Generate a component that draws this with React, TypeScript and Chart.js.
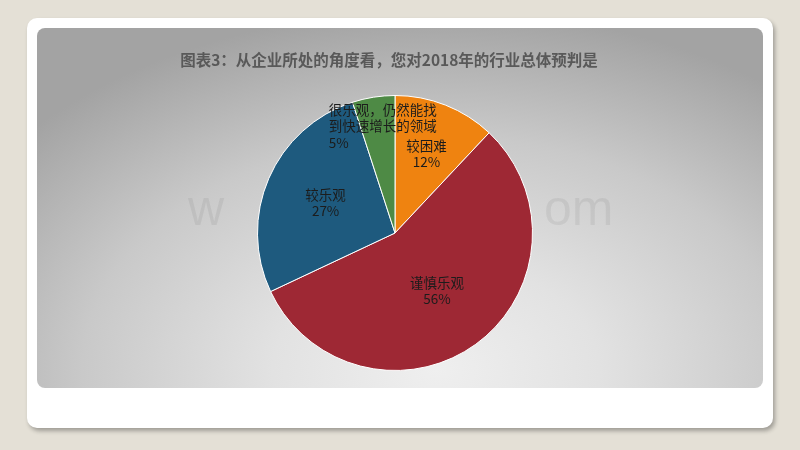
import React, { useEffect, useRef } from "react";
import { Chart, registerables } from "chart.js";

Chart.register(...registerables);

const categories = ["较困难", "谨慎乐观", "较乐观", "很乐观，仍然能找到快速增长的领域"];
const labelLines = [["较困难"], ["谨慎乐观"], ["较乐观"], ["很乐观，仍然能找", "到快速增长的领域"]];
const shares = [12, 56, 27, 5];
const colors = ["#ef8310", "#9e2834", "#1e5a7e", "#4e8a45"];
const titleText = "图表3：从企业所处的角度看，您对2018年的行业总体预判是";

const labelRadiusFraction = [0.62, 0.52, 0.55, 0.8];

const CJK = "'Noto Sans CJK SC', 'Noto Sans', sans-serif";

const titlePlugin = {
  id: "customTitle",
  beforeDraw(chart: any) {
    const ctx = chart.ctx;
    ctx.save();
    ctx.fillStyle = "#595959";
    ctx.font = "bold 15.5px " + CJK;
    ctx.textAlign = "center";
    ctx.textBaseline = "middle";
    ctx.fillText(titleText, 352, 32);
    ctx.restore();
  },
};

const watermarkPlugin = {
  id: "watermark",
  beforeDatasetsDraw(chart: any) {
    const ctx = chart.ctx;
    ctx.save();
    ctx.fillStyle = "rgba(0,0,0,0.06)";
    ctx.font = "50px 'Liberation Sans', Arial, sans-serif";
    ctx.textBaseline = "alphabetic";
    ctx.textAlign = "left";
    ctx.fillText("w", 151, 197);
    ctx.fillText("om", 507, 197);
    ctx.restore();
  },
};

const labelPlugin = {
  id: "sliceLabels",
  afterDatasetsDraw(chart: any) {
    const ctx = chart.ctx;
    const meta = chart.getDatasetMeta(0);
    const data = chart.data.datasets[0].data as number[];
    ctx.save();
    ctx.fillStyle = "#1c1c1c";
    ctx.font = "13.5px " + CJK;
    ctx.textAlign = "center";
    ctx.textBaseline = "middle";
    meta.data.forEach((arc: any, i: number) => {
      const { x, y, startAngle, endAngle, outerRadius } = arc.getProps(
        ["x", "y", "startAngle", "endAngle", "outerRadius"],
        true
      );
      const mid = (startAngle + endAngle) / 2;
      const r = outerRadius * labelRadiusFraction[i];
      const cx = x + Math.cos(mid) * r;
      const cy = y + Math.sin(mid) * r;
      const lines = [...labelLines[i], data[i] + "%"];
      const lh = 16.5;
      const top = cy - ((lines.length - 1) * lh) / 2;
      if (i === 3) {
        ctx.textAlign = "left";
        const left = cx - 49;
        lines.forEach((t, k) => ctx.fillText(t, left, top + 2 + k * lh));
        ctx.textAlign = "center";
      } else {
        lines.forEach((t, k) => ctx.fillText(t, cx, top + k * lh));
      }
    });
    ctx.restore();
  },
};

export default function App() {
  const ref = useRef<HTMLCanvasElement>(null);
  useEffect(() => {
    if (!ref.current) return;
    const chart = new Chart(ref.current, {
      type: "pie",
      data: {
        labels: categories,
        datasets: [
          {
            data: shares,
            backgroundColor: colors,
            borderColor: "#ffffff",
            borderWidth: 1,
          },
        ],
      },
      options: {
        animation: false,
        responsive: false,
        maintainAspectRatio: false,
        rotation: 0,
        layout: { padding: { top: 67, bottom: 17, left: 0, right: 10 } },
        plugins: {
          legend: { display: false },
          tooltip: { enabled: false },
          title: { display: false },
        },
      },
      plugins: [titlePlugin, watermarkPlugin, labelPlugin],
    });
    return () => chart.destroy();
  }, []);

  return (
    <div
      style={{
        position: "fixed",
        left: 0,
        top: 0,
        width: 800,
        height: 450,
        background: "#e4e0d6",
        overflow: "hidden",
      }}
    >
      <div
        style={{
          position: "absolute",
          left: 27,
          top: 18,
          width: 746,
          height: 410,
          background: "#ffffff",
          borderRadius: 10,
          boxShadow: "2px 3px 4px rgba(0,0,0,0.3)",
        }}
      />
      <div
        style={{
          position: "absolute",
          left: 37,
          top: 28,
          width: 726,
          height: 360,
          borderRadius: 8,
          background:
            "radial-gradient(ellipse 75% 100% at 55% 95%, #efefef 0%, #e2e2e2 30%, #c9c9c9 65%, #a3a3a3 100%)",
        }}
      />
      <canvas
        ref={ref}
        width={726}
        height={360}
        style={{ position: "absolute", left: 37, top: 28, width: 726, height: 360 }}
      />
    </div>
  );
}
